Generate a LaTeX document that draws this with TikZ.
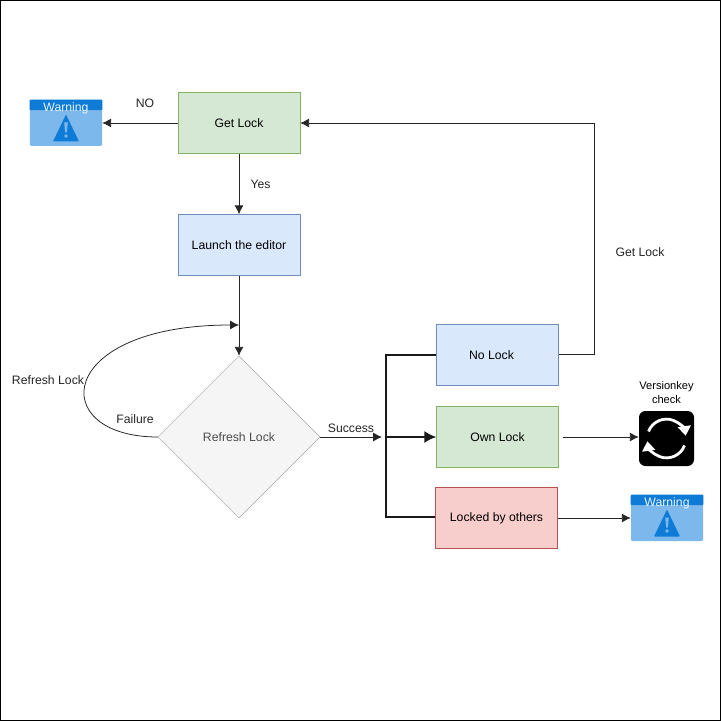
\documentclass[tikz,border=0pt]{standalone}
\usepackage{fontspec}
\setmainfont{Liberation Sans}
\usetikzlibrary{arrows.meta, calc, positioning, shapes.geometric}
\definecolor{dioBlue}{RGB}{218,232,252}
\definecolor{dioBlueEdge}{RGB}{108,142,191}
\definecolor{dioGreen}{RGB}{213,232,212}
\definecolor{dioGreenEdge}{RGB}{130,179,102}
\definecolor{dioRed}{RGB}{248,206,204}
\definecolor{dioRedEdge}{RGB}{184,84,80}
\definecolor{dioGray}{RGB}{245,245,245}
\definecolor{dioGrayEdge}{RGB}{165,165,165}
\definecolor{warnLight}{RGB}{125,184,236}
\definecolor{warnDark}{RGB}{14,124,214}
\tikzset{
  block/.style={draw, align=center, minimum width=30.5mm, minimum height=15.25mm,
                inner sep=0pt, line width=0.35pt},
  decision/.style={draw=dioGrayEdge, fill=dioGray, diamond, aspect=1, align=center,
                   minimum width=40.5mm, minimum height=40.5mm, inner sep=0pt,
                   line width=0.35pt, text=black!70},
  flow/.style={-{Latex[length=2.2mm, width=2.2mm]}, line width=0.55pt, black!85},
  bus/.style={line width=1.1pt, black!90},
  busflow/.style={-{Latex[length=3mm, width=3mm]}, line width=1.1pt, black!90},
  tag/.style={inner sep=0pt, font=\fontsize{8.7}{10}\selectfont, text=black!85},
  warnicon/.pic={
    \node[fill=warnLight, rounded corners=0.3mm, minimum width=18mm, minimum height=11.5mm,
          inner sep=0pt] (box) at (0,0) {};
    \fill[warnDark, rounded corners=0.2mm] (box.north west) rectangle ($(box.north east)+(0,10.5)$);
    \fill[warnDark, rounded corners=0.2mm] (-13,18.5) -- (0,-8.5) -- (13,18.5) -- cycle;
    \fill[warnLight] (-1.8,-0.5) -- (1.8,-0.5) -- (0.9,9.5) -- (-0.9,9.5) -- cycle;
    \fill[warnLight] (0,13) circle (1.9);
    \node[tag, text=white!85!warnLight] (title) at (0,-15) {Warning};
  },
}

\begin{document}
\begin{tikzpicture}[x=0.25mm, y=-0.25mm, font=\fontsize{8.7}{10}\selectfont]
  \useasboundingbox (0,0) rectangle (721,721);
  \fill[white] (0,0) rectangle (721,721);
  \draw[line width=0.7pt] (0.5,0.5) rectangle (720,720);

  % ----- boxes -----
  \node[block, fill=dioGreen, draw=dioGreenEdge] (getlock) at (239,123) {Get Lock};
  \node[block, fill=dioBlue, draw=dioBlueEdge] (launch) at (239,245) {Launch the editor};
  \node[decision] (refresh) at (239,437) {Refresh Lock};
  \node[block, fill=dioBlue, draw=dioBlueEdge] (nolock) at (497.5,355) {\hspace*{-3mm}No Lock};
  \node[block, fill=dioGreen, draw=dioGreenEdge] (ownlock) at (497.5,437) {Own Lock};
  \node[block, fill=dioRed, draw=dioRedEdge] (locked) at (496.5,518) {Locked by others};

  % ----- icons -----
  \pic (warntop) at (66,123) {warnicon};
  \pic (warnlow) at (667,518) {warnicon};
  \node[fill=black, rounded corners=1.6mm, minimum size=13.75mm, inner sep=0pt] (version) at (666.5,438.5) {};
  \draw[white, line width=2pt, -{Triangle[length=2.4mm, width=3.2mm]}]
    ($(version)+(-18,-7)$) arc[start angle=201, end angle=352, radius=19.3];
  \draw[white, line width=2pt, -{Triangle[length=2.4mm, width=3.2mm]}]
    ($(version)+(18,7)$) arc[start angle=21, end angle=172, radius=19.3];
  \node[align=center, anchor=south, inner sep=0pt, font=\fontsize{7.9}{10}\selectfont] (versionlabel) at (666.5,404)
    {Versionkey\\check};

  % ----- connectors -----
  \coordinate (loopend) at (launch.south |- 0,325);
  \coordinate (succend) at (382,437);
  \coordinate (bustop) at (386,355);
  \coordinate (buslow) at (386,517);
  \coordinate (buscross) at (bustop |- ownlock.west);
  \coordinate (returnlow) at (594,354);
  \coordinate (returntop) at (594,123);
  \draw[flow] (getlock.west) -- (warntopbox.east);
  \draw[flow] (getlock.south) -- (launch.north);
  \draw[flow] (launch.south) -- (refresh.north);
  \draw[flow] (refresh.west) .. controls (46,437) and (54,325) .. (loopend);
  \draw[flow] (refresh.east) -- (succend);
  \draw[bus] (nolock.west |- bustop) -- (bustop) -- (buslow) -- (locked.west |- buslow);
  \draw[busflow] (buscross) -- (ownlock.west);
  \draw[flow] (nolock.east |- returnlow) -- (returnlow) -- (returntop) -- (getlock.east);
  \draw[flow] ($(ownlock.east)+(4,0)$) -- (version.west |- ownlock.east);
  \draw[flow] (locked.east) -- (warnlowbox.west);

  % ----- labels -----
  \node[tag] (nolabel) at (145,103) {NO};
  \node[tag] (yeslabel) at (260.5,184) {Yes};
  \node[tag] (getlabel) at (640,252) {Get Lock};
  \node[tag] (looplabel) at (48,380) {Refresh Lock};
  \node[tag] (faillabel) at (135,419) {Failure};
  \node[tag] (succlabel) at (351,428) {Success};
\end{tikzpicture}
\end{document}
